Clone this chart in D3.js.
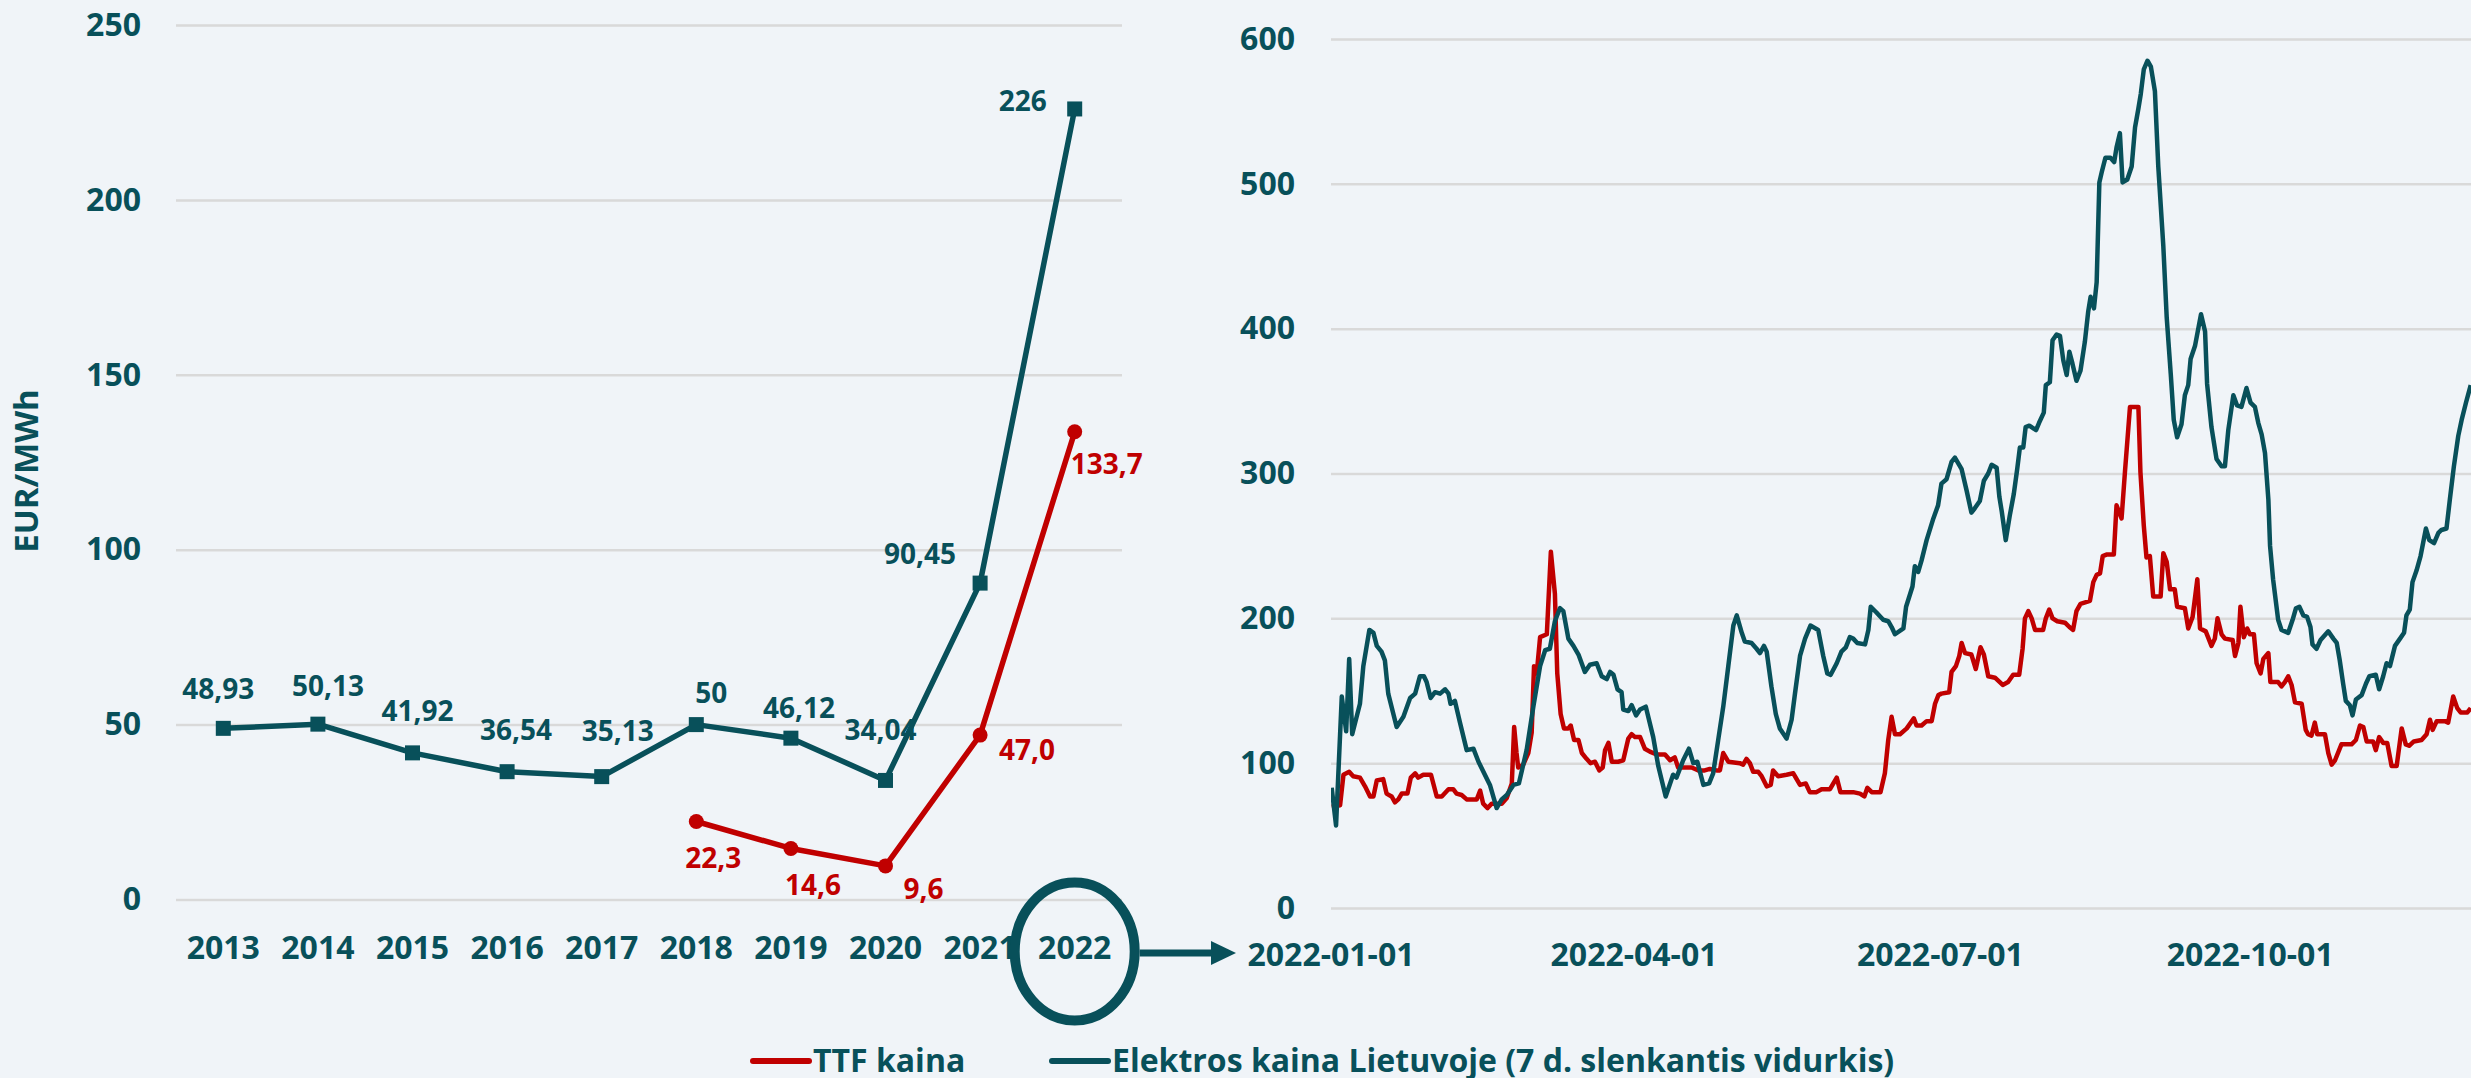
<!DOCTYPE html>
<html>
<head>
<meta charset="utf-8">
<script src="https://cdn.jsdelivr.net/npm/d3@7"></script>
<style>
  html, body { margin: 0; padding: 0; background: #f0f4f8; }
  svg { display: block; }
  text { font-family: "Open Sans", "DejaVu Sans", sans-serif; font-weight: 700; }
</style>
</head>
<body>
<svg id="chart" width="2471" height="1078"></svg>
<script>
// ---- metiniai duomenys (kairė) ----
const years = ['2013', '2014', '2015', '2016', '2017', '2018', '2019', '2020', '2021', '2022'];
const elYear = [48.93, 50.13, 41.92, 36.54, 35.13, 50, 46.12, 34.04, 90.45, 226];
const elYearLabels = ['48,93', '50,13', '41,92', '36,54', '35,13', '50', '46,12', '34,04', '90,45', '226'];
const ttfYears = ['2018', '2019', '2020', '2021', '2022'];
const ttfYear = [22.3, 14.6, 9.6, 47.0, 133.7];
const ttfYearLabels = ['22,3', '14,6', '9,6', '47,0', '133,7'];
const leftTicks = [0, 50, 100, 150, 200, 250];

// ---- 2022 m. dienos duomenys (dešinė), dienos nuo 2022-01-01 ----
const ttfDays = [0.2, 2.7, 3.7, 5.4, 6.6, 8.6, 10.1, 11.6, 12.6, 13.6, 15.5, 16.5, 18, 19, 20, 21, 22.7, 23.7, 25, 25.9,
  27.4, 29.7, 31.4, 32.9, 34.9, 36.3, 37.3, 38.8, 40.3, 41.8, 43.3, 44.3, 45.2, 46.5, 47.7, 49.2, 50.7, 52.2, 53.7, 54.4,
  55.1, 55.6, 57.1, 58.6, 59.6, 60.3, 61.1, 62.1, 64.1, 65.3, 66.5, 67.2, 68.2, 69.2, 70.5, 71.2, 72.2, 73.5, 74.5, 75.9,
  77.1, 78.4, 79.7, 80.7, 81.4, 82.4, 83.4, 85.3, 86.8, 88.3, 89.3, 90.3, 91.8, 93.2, 94.7, 96.7, 99.2, 100.7, 102.1, 103.1,
  105.6, 107.1, 109.1, 111, 112.5, 114.5, 115.5, 116.5, 118, 121.4, 122.4, 123.4, 124.4, 125.4, 126.9, 127.9, 129.4, 130.6, 131.3, 132.8,
  135.3, 137.3, 139.3, 141, 142.2, 144.2, 145.7, 148.2, 150.2, 151.3, 155.1, 157.1, 158.4, 159.3, 160.6, 163.2, 164.5, 165.5, 166.5, 167.5,
  169, 171, 173.1, 173.9, 175.4, 176.9, 178.4, 179.4, 180.4, 181.3, 183.6, 184.3, 185.6, 186.6, 187.3, 188.3, 190.2, 191.5, 192.9, 193.9,
  195.2, 197.2, 199.5, 201.1, 202.6, 204.4, 205.4, 206.1, 207.1, 208.1, 209.1, 211.5, 212.3, 213.3, 214.3, 215.7, 218, 219.3, 220.4, 221.4,
  222.6, 225.4, 226.4, 227.4, 228.4, 229.2, 230.3, 232.5, 233.3, 234.8, 235.8, 237.3, 239.8, 240.4, 241.4, 242.2, 243.2, 244.2, 246.4, 247.2,
  248.2, 249.2, 250.6, 251.3, 253.6, 254.6, 255.9, 257.3, 258.1, 259.8, 261.5, 262.5, 263.3, 264.5, 265.5, 267.8, 268.5, 269.5, 270.1, 271.1,
  272.1, 272.9, 274.1, 274.9, 276.1, 276.9, 278.4, 279, 281.3, 282.3, 283.3, 284.3, 285.3, 286.3, 288.3, 289.5, 290.2, 291.2, 292.2, 292.9,
  295.2, 296.2, 297.2, 298.2, 300.1, 303.1, 304.4, 305.6, 306.6, 307.6, 309.5, 310.3, 311.3, 312.5, 313.7, 315, 316.5, 318, 319.2, 320.2,
  321.6, 323.9, 325.4, 326.4, 327.2, 328.4, 330.8, 331.8, 333.3, 334.5, 335.5, 337.5, 338.5];
const ttfVals = [70, 71, 92, 94, 91, 90, 84, 77, 77, 88, 89, 79, 77, 73, 75, 79, 79, 90, 93, 90,
  92, 92, 77, 77, 82, 82, 79, 78, 75, 75, 75, 81, 72, 69, 72, 72, 72, 76, 86, 125,
  107, 97, 99, 107, 121, 167, 162, 187, 189, 246, 217, 162, 134, 124, 124, 126, 116, 116, 107, 103,
  100, 101, 95, 97, 109, 114, 101, 101, 102, 117, 120, 118, 118, 110, 108, 106, 106, 102, 104, 97,
  97, 97, 95, 95, 96, 95, 95, 107, 101, 100, 99, 103, 100, 94, 94, 91, 84, 85, 95, 91,
  92, 93, 85, 86, 80, 80, 82, 82, 90, 80, 80, 79, 77, 83, 80, 80, 93, 116, 132, 120,
  120, 124, 131, 126, 126, 129, 129, 141, 147, 148, 149, 163, 167, 174, 183, 176, 175, 165, 180, 175,
  160, 159, 154, 156, 161, 161, 179, 200, 205, 200, 192, 192, 200, 206, 200, 198, 197, 194, 192, 205,
  210, 212, 225, 230, 231, 243, 244, 244, 278, 269, 301, 346, 346, 301, 264, 242, 243, 215, 215, 245,
  239, 220, 220, 208, 207, 193, 201, 227, 193, 191, 181, 186, 200, 189, 186, 185, 174, 183, 208, 187,
  193, 189, 189, 169, 162, 172, 176, 156, 156, 153, 156, 160, 154, 142, 141, 123, 120, 119, 128, 120,
  120, 107, 99, 102, 113, 113, 116, 126, 125, 115, 115, 109, 118, 114, 114, 98, 98, 124, 113, 112,
  115, 116, 120, 130, 123, 129, 129, 128, 146, 138, 135, 135, 138];

const elDays = [0.2, 1.5, 3.2, 4.5, 5.4, 6.3, 8.6, 9.6, 11.4, 12.6, 13.6, 15, 16, 17, 19.5, 21.5, 23.5, 25, 26.4, 27.6,
  28.4, 29.6, 30.9, 32.4, 33.9, 34.9, 35.5, 36.8, 38.3, 40.3, 42.3, 43.8, 47.2, 49.2, 50.7, 52.2, 54.2, 55.8, 58.1, 60.1,
  62.1, 63.6, 65, 66.5, 68, 69, 70.5, 72, 73.5, 75.4, 76.9, 78.9, 80.4, 81.9, 82.9, 83.9, 85.1, 86.3, 86.8, 88.3,
  89.3, 90.6, 91.8, 93.5, 95.7, 97.2, 99.4, 101.6, 102.6, 104.6, 106.3, 107.6, 108.8, 110.6, 112.3, 113.5, 115, 116.5, 118, 119.5,
  120.5, 122, 122.9, 124.9, 126.4, 127.4, 128.6, 129.4, 130.8, 132.1, 133.3, 135.3, 136.8, 137.8, 139.3, 140.8, 142.4, 144.7, 146.2, 147.4,
  148.4, 150.2, 151.6, 152.9, 154.1, 155.1, 156.3, 158.6, 159.6, 160.3, 162, 164, 165.5, 166.5, 167.5, 170, 170.8, 172.7, 173.4, 174.4,
  175.4, 176.9, 178.9, 180.3, 181.3, 182.8, 184.3, 185.3, 187.3, 188.8, 190.2, 191.2, 192.7, 193.9, 195.2, 196.2, 197.7, 198.5, 199.2, 200.4,
  201.6, 202.8, 203.8, 204.6, 205.6, 206.3, 207.4, 209.4, 210.3, 211.7, 212.3, 213.5, 214.3, 215.5, 216.5, 217.5, 218.5, 219.3, 220.2, 221.4,
  222.6, 223.9, 224.9, 225.6, 226.6, 227.4, 228.2, 228.9, 230, 231.5, 232.6, 233.3, 234.3, 235.1, 236.5, 237.8, 238.8, 239.8, 240.5, 241.4,
  242.5, 243.5, 244.7, 245.7, 247.2, 248.2, 249.4, 250.3, 251.3, 252.6, 253.6, 254.6, 255.3, 256.6, 258.4, 259.6, 260.2, 261.5, 263, 264.5,
  265.5, 266.5, 268, 269.1, 270.4, 271.9, 273.1, 274.4, 275.4, 276.4, 277.4, 278.4, 278.9, 279.8, 281.3, 282.3, 284.3, 285.6, 286.6, 287.6,
  288.8, 289.9, 290.9, 291.5, 292.7, 293.9, 296.2, 297.7, 298.7, 299.6, 300.6, 301.4, 302.6, 303.4, 304.4, 306.1, 307.4, 308.4, 310.3, 311.3,
  312.5, 313.5, 314.5, 316, 317.5, 318.7, 319.4, 320.4, 321.2, 322.4, 323.6, 325.2, 326.2, 327.6, 328.9, 329.8, 331.3, 332.3, 333.5, 334.8,
  335.8, 337.1, 338.5];
const elVals = [83, 57, 146, 122, 172, 120, 141, 167, 192, 190, 181, 177, 171, 148, 125, 132, 145, 148, 160, 160,
  156, 145, 149, 148, 151, 148, 141, 143, 128, 109, 110, 101, 85, 69, 75, 78, 85, 86, 109, 139,
  167, 178, 179, 198, 207, 205, 186, 181, 175, 163, 168, 169, 160, 158, 163, 161, 151, 149, 137, 136,
  140, 133, 137, 139, 118, 98, 77, 92, 90, 102, 110, 100, 101, 85, 86, 93, 116, 139, 167, 195,
  202, 190, 184, 183, 179, 176, 181, 177, 153, 134, 124, 117, 130, 148, 174, 186, 195, 192, 174, 162,
  161, 169, 177, 180, 187, 186, 183, 182, 192, 208, 204, 199, 198, 194, 189, 193, 208, 222, 236, 232,
  240, 254, 269, 278, 293, 296, 308, 311, 303, 288, 273, 276, 281, 295, 300, 306, 304, 284, 274, 254,
  271, 286, 303, 318, 318, 332, 333, 330, 335, 342, 361, 363, 392, 396, 395, 378, 368, 384, 376, 364,
  371, 391, 412, 422, 414, 432, 501, 508, 518, 518, 515, 525, 535, 501, 503, 512, 539, 552, 562, 579,
  585, 581, 564, 512, 457, 408, 369, 337, 325, 334, 354, 361, 379, 388, 410, 398, 362, 332, 310, 305,
  305, 330, 354, 347, 346, 359, 349, 346, 335, 327, 314, 282, 250, 227, 199, 192, 190, 199, 207, 208,
  202, 201, 194, 182, 179, 185, 191, 186, 183, 171, 155, 143, 140, 133, 144, 147, 155, 160, 161, 151,
  160, 169, 167, 181, 186, 190, 202, 206, 225, 233, 243, 262, 254, 252, 259, 261, 262, 282, 305, 326,
  337, 349, 361];
const rightTicks = [0, 100, 200, 300, 400, 500, 600];
const dateTicks = ['2022-01-01', '2022-04-01', '2022-07-01', '2022-10-01'];

const legendNames = ['TTF kaina', 'Elektros kaina Lietuvoje (7 d. slenkantis vidurkis)'];

// spalvos
const teal = '#08505a', red = '#c00000', gridColor = '#d9d9d9';

let svg = d3.select('#chart');

// ================= kairė diagrama =================
let x = d3.scaleBand().domain(years).range([176, 1122]);
let xc = d => x(d) + x.bandwidth() / 2;
let y = d3.scaleLinear().domain([0, 250]).range([899.5, 25]);

// tinklelis + y ašies žymos
let gLeftAxis = svg.append('g')
    .attr('transform', 'translate(176,0)')
    .call(d3.axisLeft(y).tickValues(leftTicks).tickSize(-946).tickPadding(35));
gLeftAxis.select('.domain').remove();
gLeftAxis.selectAll('line').attr('stroke', gridColor).attr('stroke-width', 2.5);
gLeftAxis.selectAll('text')
    .attr('fill', teal).style('font-size', '32px')
    .style('font-family', '"Open Sans", sans-serif').style('font-weight', 700);

// y ašies pavadinimas
svg.append('text')
    .attr('transform', 'translate(26,471) rotate(-90)')
    .attr('text-anchor', 'middle')
    .attr('dy', '0.35em')
    .attr('fill', teal)
    .style('font-size', '33px')
    .text('EUR/MWh');

// x ašies metai
svg.append('g').selectAll('text')
    .data(years)
    .join('text')
    .attr('x', d => xc(d))
    .attr('y', 948)
    .attr('dy', '0.35em')
    .attr('text-anchor', 'middle')
    .attr('fill', teal)
    .style('font-size', '32px')
    .text(d => d);

// linijos
let elPts = years.map((d, i) => [xc(d), y(elYear[i])]);
let ttfPts = ttfYears.map((d, i) => [xc(d), y(ttfYear[i])]);
let line = d3.line();

svg.append('path').attr('d', line(ttfPts))
    .attr('fill', 'none').attr('stroke', red).attr('stroke-width', 5.5).attr('stroke-linejoin', 'round');
svg.append('path').attr('d', line(elPts))
    .attr('fill', 'none').attr('stroke', teal).attr('stroke-width', 5.5).attr('stroke-linejoin', 'round');

// žymekliai
svg.append('g').selectAll('circle')
    .data(ttfPts).join('circle')
    .attr('cx', d => d[0]).attr('cy', d => d[1]).attr('r', 7.5).attr('fill', red);
svg.append('g').selectAll('rect')
    .data(elPts).join('rect')
    .attr('x', d => d[0] - 7.5).attr('y', d => d[1] - 7.5)
    .attr('width', 15).attr('height', 15).attr('fill', teal);

// duomenų etiketės (poslinkiai nuo taško)
const elLabelOff = [[-5, -39], [10, -38], [5, -42], [9, -41], [16, -45], [15, -31], [8, -30], [-5, -50], [-60, -29], [-52, -8]];
const ttfLabelOff = [[17, 37], [22, 37], [38, 23], [47, 15], [32, 32]];

svg.append('g').selectAll('text')
    .data(elPts).join('text')
    .attr('x', (d, i) => d[0] + elLabelOff[i][0])
    .attr('y', (d, i) => d[1] + elLabelOff[i][1])
    .attr('dy', '0.35em').attr('text-anchor', 'middle')
    .attr('fill', teal).style('font-size', '28px')
    .text((d, i) => elYearLabels[i]);
svg.append('g').selectAll('text')
    .data(ttfPts).join('text')
    .attr('x', (d, i) => d[0] + ttfLabelOff[i][0])
    .attr('y', (d, i) => d[1] + ttfLabelOff[i][1])
    .attr('dy', '0.35em').attr('text-anchor', 'middle')
    .attr('fill', red).style('font-size', '28px')
    .text((d, i) => ttfYearLabels[i]);

// apskritimas aplink 2022 ir rodyklė
let cx22 = xc('2022');
svg.append('ellipse')
    .attr('cx', cx22).attr('cy', 951.5).attr('rx', 60).attr('ry', 69)
    .attr('fill', 'none').attr('stroke', teal).attr('stroke-width', 10);
svg.append('line')
    .attr('x1', cx22 + 65).attr('x2', 1214).attr('y1', 953).attr('y2', 953)
    .attr('stroke', teal).attr('stroke-width', 7);
svg.append('path')
    .attr('d', 'M1211,941 L1236,953 L1211,965 Z')
    .attr('fill', teal);

// ================= dešinė diagrama =================
let t0 = new Date(Date.UTC(2022, 0, 1));
let dayToDate = d => new Date(t0.getTime() + d * 86400000);
let xT = d3.scaleUtc()
    .domain([t0, new Date(Date.UTC(2022, 11, 31))])
    .range([1331, 1331 + 364 * 3.367]);
let yR = d3.scaleLinear().domain([0, 600]).range([908, 39]);

let gRightAxis = svg.append('g')
    .attr('transform', 'translate(1331,0)')
    .call(d3.axisLeft(yR).tickValues(rightTicks).tickSize(-1140).tickPadding(36));
gRightAxis.select('.domain').remove();
gRightAxis.selectAll('line').attr('stroke', gridColor).attr('stroke-width', 2.5);
gRightAxis.selectAll('text')
    .attr('fill', teal).style('font-size', '32px')
    .style('font-family', '"Open Sans", sans-serif').style('font-weight', 700);

svg.append('g').selectAll('text')
    .data(dateTicks).join('text')
    .attr('x', d => xT(new Date(d + 'T00:00:00Z')))
    .attr('y', 955)
    .attr('dy', '0.35em').attr('text-anchor', 'middle')
    .attr('fill', teal).style('font-size', '32px')
    .text(d => d);

svg.append('clipPath').attr('id', 'clip-right')
    .append('rect').attr('x', 1331).attr('y', 0).attr('width', 1140).attr('height', 1078);

let lineT = d3.line()
    .x(d => xT(dayToDate(d[0])))
    .y(d => yR(d[1]));

let gLines = svg.append('g').attr('clip-path', 'url(#clip-right)');
gLines.append('path')
    .attr('d', lineT(ttfDays.map((d, i) => [d, ttfVals[i]])))
    .attr('fill', 'none').attr('stroke', red).attr('stroke-width', 4.5).attr('stroke-linejoin', 'round');
gLines.append('path')
    .attr('d', lineT(elDays.map((d, i) => [d, elVals[i]])))
    .attr('fill', 'none').attr('stroke', teal).attr('stroke-width', 4.5).attr('stroke-linejoin', 'round');

// ================= legenda =================
const legendX = [753, 1052];
const legendColors = [red, teal];
let gLegend = svg.append('g');
legendNames.forEach(function (name, i) {
    gLegend.append('line')
        .attr('x1', legendX[i]).attr('x2', legendX[i] + 56)
        .attr('y1', 1061).attr('y2', 1061)
        .attr('stroke', legendColors[i]).attr('stroke-width', 6).attr('stroke-linecap', 'round');
    gLegend.append('text')
        .attr('x', legendX[i] + 60).attr('y', 1072)
        .attr('fill', teal).style('font-size', '32px')
        .text(name);
});
</script>
</body>
</html>
